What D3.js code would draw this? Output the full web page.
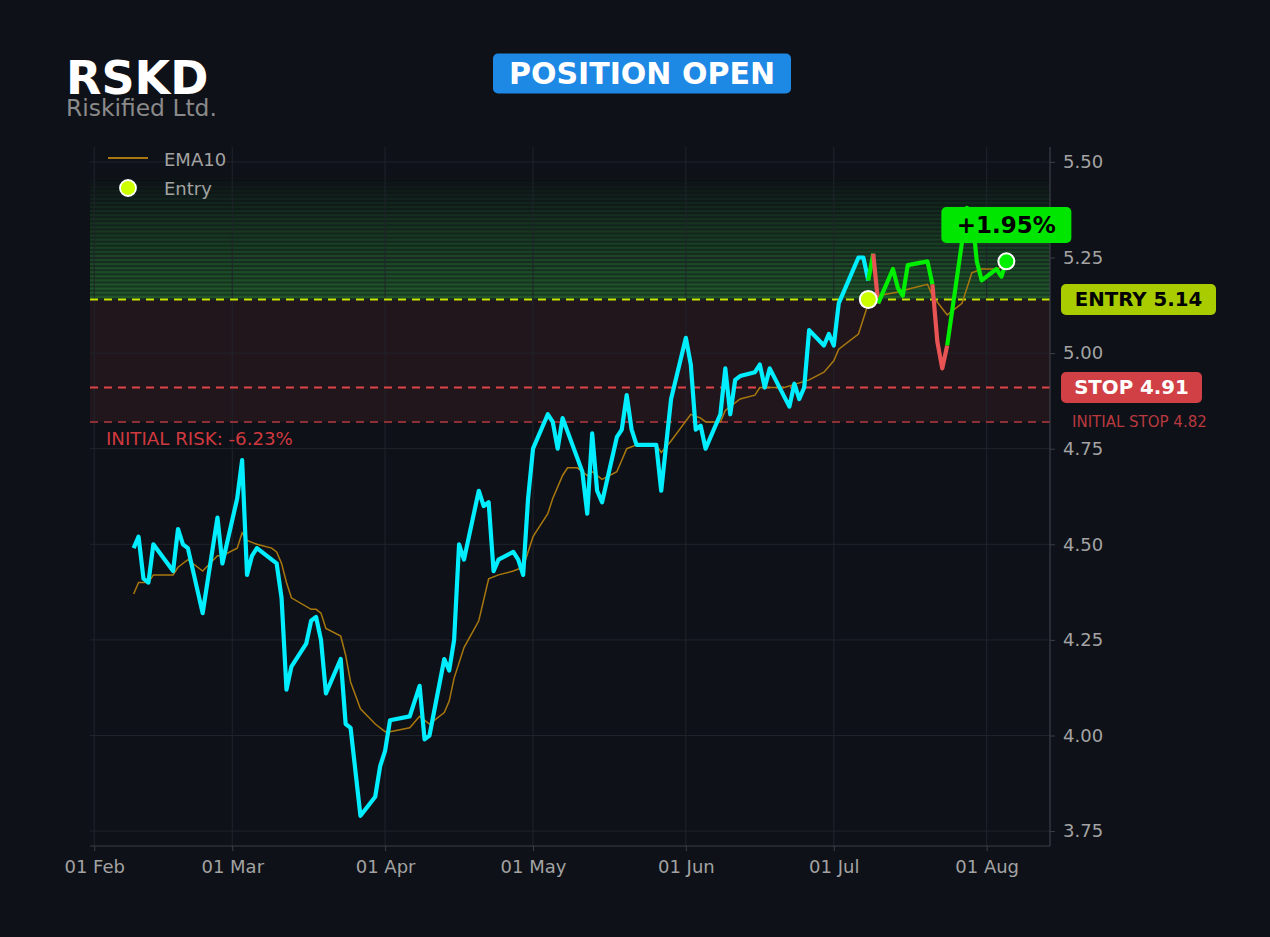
<!DOCTYPE html>
<html>
<head>
<meta charset="utf-8">
<script src="https://cdn.jsdelivr.net/npm/d3@7"></script>
<style>
  html, body { margin: 0; padding: 0; background: #0e1117; }
  svg { display: block; font-family: "DejaVu Sans", sans-serif; }
</style>
</head>
<body>
<div id="mainDiv"></div>
<script>
'use strict';

// ---- data ----
var ticker = "RSKD";
var companyName = "Riskified Ltd.";
var statusText = "POSITION OPEN";

var priceDates = [
  "2023-02-09","2023-02-10","2023-02-11","2023-02-12","2023-02-13","2023-02-17","2023-02-18","2023-02-19","2023-02-20","2023-02-23",
  "2023-02-26","2023-02-27","2023-03-02","2023-03-03","2023-03-04","2023-03-05","2023-03-06","2023-03-10","2023-03-11","2023-03-12",
  "2023-03-13","2023-03-16","2023-03-17","2023-03-18","2023-03-19","2023-03-20","2023-03-23","2023-03-24","2023-03-25","2023-03-27",
  "2023-03-30","2023-03-31","2023-04-01","2023-04-02","2023-04-06","2023-04-08","2023-04-09","2023-04-10","2023-04-13","2023-04-14",
  "2023-04-15","2023-04-16","2023-04-17","2023-04-20","2023-04-21","2023-04-22","2023-04-23","2023-04-24","2023-04-27","2023-04-28",
  "2023-04-29","2023-04-30","2023-05-01","2023-05-04","2023-05-05","2023-05-06","2023-05-07","2023-05-11","2023-05-12","2023-05-13",
  "2023-05-14","2023-05-15","2023-05-18","2023-05-19","2023-05-20","2023-05-21","2023-05-22","2023-05-26","2023-05-27","2023-05-29",
  "2023-06-01","2023-06-02","2023-06-03","2023-06-04","2023-06-05","2023-06-08","2023-06-09","2023-06-10","2023-06-11","2023-06-12",
  "2023-06-15","2023-06-16","2023-06-17","2023-06-18","2023-06-22","2023-06-23","2023-06-24","2023-06-25","2023-06-26","2023-06-29",
  "2023-06-30","2023-07-01","2023-07-02","2023-07-06","2023-07-07","2023-07-08","2023-07-09","2023-07-10","2023-07-13","2023-07-14",
  "2023-07-15","2023-07-16","2023-07-20","2023-07-21","2023-07-22","2023-07-23","2023-07-24","2023-07-28","2023-07-29","2023-07-30",
  "2023-07-31","2023-08-03","2023-08-04","2023-08-05"
];
var closes = [
  4.49, 4.52, 4.41, 4.40, 4.50, 4.43, 4.54, 4.50, 4.49, 4.32,
  4.57, 4.45, 4.62, 4.72, 4.42, 4.47, 4.49, 4.45, 4.36, 4.12,
  4.18, 4.24, 4.30, 4.31, 4.25, 4.11, 4.20, 4.03, 4.02, 3.79,
  3.84, 3.92, 3.96, 4.04, 4.05, 4.13, 3.99, 4.00, 4.20, 4.17,
  4.25, 4.50, 4.46, 4.64, 4.60, 4.61, 4.43, 4.46, 4.48, 4.46,
  4.42, 4.62, 4.75, 4.84, 4.82, 4.75, 4.83, 4.69, 4.58, 4.79,
  4.64, 4.61, 4.78, 4.80, 4.89, 4.80, 4.76, 4.76, 4.64, 4.88,
  5.04, 4.97, 4.80, 4.81, 4.75, 4.84, 4.96, 4.84, 4.93, 4.94,
  4.95, 4.97, 4.91, 4.96, 4.86, 4.92, 4.88, 4.91, 5.06, 5.02,
  5.05, 5.02, 5.13, 5.25, 5.25, 5.19, 5.26, 5.13, 5.22, 5.17,
  5.15, 5.23, 5.24, 5.18, 5.03, 4.96, 5.02, 5.38, 5.37, 5.24,
  5.19, 5.22, 5.20, 5.24
];

var emaDates = [
  "2023-02-09","2023-02-10","2023-02-12","2023-02-13","2023-02-17","2023-02-18","2023-02-20","2023-02-23","2023-02-26","2023-02-27",
  "2023-03-02","2023-03-03","2023-03-04","2023-03-06","2023-03-09","2023-03-10","2023-03-11","2023-03-12","2023-03-13","2023-03-17",
  "2023-03-18","2023-03-19","2023-03-20","2023-03-23","2023-03-24","2023-03-25","2023-03-27","2023-03-30","2023-04-01","2023-04-02",
  "2023-04-06","2023-04-08","2023-04-10","2023-04-13","2023-04-14","2023-04-15","2023-04-17","2023-04-20","2023-04-22","2023-04-24",
  "2023-04-27","2023-04-29","2023-05-01","2023-05-04","2023-05-05","2023-05-07","2023-05-08","2023-05-10","2023-05-12","2023-05-13",
  "2023-05-15","2023-05-18","2023-05-19","2023-05-20","2023-05-22","2023-05-26","2023-05-27","2023-05-29","2023-06-02","2023-06-04",
  "2023-06-05","2023-06-08","2023-06-09","2023-06-12","2023-06-15","2023-06-16","2023-06-21","2023-06-26","2023-06-29","2023-07-01",
  "2023-07-02","2023-07-06","2023-07-07","2023-07-08","2023-07-10","2023-07-14","2023-07-17","2023-07-20","2023-07-21","2023-07-24",
  "2023-07-27","2023-07-29","2023-07-31","2023-08-03","2023-08-05"
];
var emaValues = [
  4.37, 4.40, 4.40, 4.42, 4.42, 4.44, 4.46, 4.43, 4.47, 4.47,
  4.49, 4.53, 4.51, 4.50, 4.49, 4.48, 4.45, 4.40, 4.36, 4.33,
  4.33, 4.32, 4.28, 4.26, 4.21, 4.14, 4.07, 4.03, 4.01, 4.01,
  4.02, 4.05, 4.03, 4.06, 4.09, 4.15, 4.23, 4.30, 4.41, 4.42,
  4.43, 4.44, 4.52, 4.58, 4.62, 4.68, 4.70, 4.70, 4.68, 4.69,
  4.67, 4.69, 4.72, 4.75, 4.76, 4.76, 4.74, 4.77, 4.84, 4.83,
  4.82, 4.82, 4.85, 4.88, 4.89, 4.91, 4.91, 4.93, 4.95, 4.98,
  5.01, 5.05, 5.09, 5.13, 5.15, 5.16, 5.17, 5.18, 5.15, 5.10,
  5.13, 5.21, 5.22, 5.22, 5.23
];

var entryDate = "2023-07-08";
var entryPrice = 5.14;
var stopPrice = 4.91;
var initialStopPrice = 4.82;
var lastDate = "2023-08-05";
var lastPrice = 5.24;
var pnlText = "+1.95%";
var riskText = "INITIAL RISK: -6.23%";

var yTicks = [3.75, 4.00, 4.25, 4.50, 4.75, 5.00, 5.25, 5.50];
var xTickDates = ["2023-02-01","2023-03-01","2023-04-01","2023-05-01","2023-06-01","2023-07-01","2023-08-01"];

// ---- chart ----
var myApp = {};

myApp.width = 1270;
myApp.height = 937;
myApp.plot = { left: 90, right: 1050, top: 147, bottom: 846 };

myApp.colors = {
    bg: '#0e1117',
    grid: '#20242c',
    spine: '#3b3f47',
    tickText: '#a3a3a3',
    price: '#00eeff',
    win: '#00ee00',
    loss: '#e85454',
    ema: '#a8780f',
    entry: '#c8e600',
    stop: '#e04448',
    initStop: '#8e2f36',
    riskZone: '#21161c'
};

myApp.parse = d3.timeParse('%Y-%m-%d');

myApp.buildScales = function () {
    var p = myApp.plot;
    var dates = priceDates.map(myApp.parse);
    var ext = d3.extent(dates);
    var pad = (ext[1] - ext[0]) * 0.05;
    myApp.xScale = d3.scaleTime()
        .domain([new Date(+ext[0] - pad), new Date(+ext[1] + pad)])
        .range([p.left, p.right]);
    myApp.yScale = d3.scaleLinear().domain([3.711, 5.539]).range([p.bottom, p.top]);
};

myApp.drawGrid = function (svg) {
    var p = myApp.plot, x = myApp.xScale, y = myApp.yScale;
    var g = svg.append('g').attr('class', 'grid');
    g.selectAll('line.h').data(yTicks).enter().append('line')
        .attr('x1', p.left).attr('x2', p.right)
        .attr('y1', function (d) { return y(d); }).attr('y2', function (d) { return y(d); })
        .attr('stroke', myApp.colors.grid).attr('stroke-width', 1);
    g.selectAll('line.v').data(xTickDates).enter().append('line')
        .attr('y1', p.top).attr('y2', p.bottom)
        .attr('x1', function (d) { return x(myApp.parse(d)); }).attr('x2', function (d) { return x(myApp.parse(d)); })
        .attr('stroke', myApp.colors.grid).attr('stroke-width', 1);
};

myApp.drawZones = function (g) {
    var p = myApp.plot, y = myApp.yScale;
    // risk zone between initial stop and entry
    g.append('rect')
        .attr('x', p.left).attr('width', p.right - p.left)
        .attr('y', y(entryPrice)).attr('height', y(initialStopPrice) - y(entryPrice))
        .attr('fill', myApp.colors.riskZone);

    // fading green stripes above entry
    var n = 30, top = 5.46;
    var step = (top - entryPrice) / n;
    var bands = d3.range(n);
    var alpha = function (i) { return Math.pow(1 - i / n, 0.9); };
    g.selectAll('rect.base').data(bands).enter().append('rect')
        .attr('x', p.left).attr('width', p.right - p.left)
        .attr('y', function (i) { return y(entryPrice + (i + 1) * step); })
        .attr('height', function (i) { return y(entryPrice + i * step) - y(entryPrice + (i + 1) * step); })
        .attr('fill', '#34a040')
        .attr('fill-opacity', function (i) { return 0.27 * alpha(i); });
    g.selectAll('rect.band').data(bands).enter().append('rect')
        .attr('x', p.left).attr('width', p.right - p.left)
        .attr('y', function (i) { return y(entryPrice + (i + 1) * step); })
        .attr('height', 2.4)
        .attr('fill', '#34a040')
        .attr('fill-opacity', function (i) { return 0.3 * alpha(i); });
};

myApp.hline = function (g, value, color, width, dash) {
    var p = myApp.plot, y = myApp.yScale;
    g.append('line')
        .attr('x1', p.left).attr('x2', p.right)
        .attr('y1', y(value)).attr('y2', y(value))
        .attr('stroke', color).attr('stroke-width', width)
        .attr('stroke-dasharray', dash);
};

myApp.drawLines = function (g) {
    var x = myApp.xScale, y = myApp.yScale;
    var line = d3.line()
        .x(function (d) { return x(d.date); })
        .y(function (d) { return y(d.value); });

    var ema = emaDates.map(function (d, i) { return { date: myApp.parse(d), value: emaValues[i] }; });
    g.append('path').datum(ema)
        .attr('d', line)
        .attr('fill', 'none')
        .attr('stroke', myApp.colors.ema)
        .attr('stroke-width', 1.5);

    var pts = priceDates.map(function (d, i) { return { date: myApp.parse(d), value: closes[i] }; });
    var entryT = +myApp.parse(entryDate);

    // split the close series into runs of the same colour
    var runs = [];
    for (var i = 1; i < pts.length; i++) {
        var c;
        if (+pts[i].date <= entryT) c = myApp.colors.price;
        else c = pts[i].value < entryPrice ? myApp.colors.loss : myApp.colors.win;
        var last = runs[runs.length - 1];
        if (last && last.color === c) last.pts.push(pts[i]);
        else runs.push({ color: c, pts: [pts[i - 1], pts[i]] });
    }

    g.selectAll('path.price').data(runs).enter().append('path')
        .attr('class', 'price')
        .attr('d', function (r) { return line(r.pts); })
        .attr('fill', 'none')
        .attr('stroke', function (r) { return r.color; })
        .attr('stroke-width', 4.2)
        .attr('stroke-linejoin', 'round');
};

myApp.drawAxes = function (svg) {
    var p = myApp.plot;
    var yAxis = d3.axisRight(myApp.yScale).tickValues(yTicks).tickFormat(d3.format('.2f')).tickSize(5).tickPadding(8);
    var xAxis = d3.axisBottom(myApp.xScale).tickValues(xTickDates.map(myApp.parse))
        .tickFormat(d3.timeFormat('%d %b')).tickSize(5).tickPadding(9);

    var ya = svg.append('g').attr('transform', 'translate(' + p.right + ',0)').call(yAxis);
    var xa = svg.append('g').attr('transform', 'translate(0,' + p.bottom + ')').call(xAxis);

    [ya, xa].forEach(function (a) {
        a.select('.domain').remove();
        a.selectAll('line').attr('stroke', myApp.colors.spine);
        a.selectAll('text').attr('fill', myApp.colors.tickText)
            .style('font-size', '18px').style('font-family', '"DejaVu Sans", sans-serif');
    });

    svg.append('line').attr('x1', p.right).attr('x2', p.right).attr('y1', p.top).attr('y2', p.bottom)
        .attr('stroke', myApp.colors.spine).attr('stroke-width', 1.2);
    svg.append('line').attr('x1', p.left).attr('x2', p.right).attr('y1', p.bottom).attr('y2', p.bottom)
        .attr('stroke', myApp.colors.spine).attr('stroke-width', 1.2);
};

myApp.labelBox = function (svg, cx, cy, w, h, fill, text, textColor, size, anchorLeft) {
    var x0 = anchorLeft ? cx : cx - w / 2;
    svg.append('rect').attr('x', x0).attr('y', cy - h / 2).attr('width', w).attr('height', h)
        .attr('rx', 5).attr('fill', fill);
    svg.append('text').attr('x', x0 + w / 2).attr('y', cy)
        .attr('text-anchor', 'middle').attr('dominant-baseline', 'central')
        .attr('fill', textColor).attr('font-weight', 'bold').attr('font-size', size)
        .text(text);
};

myApp.drawAnnotations = function (svg, g) {
    var x = myApp.xScale, y = myApp.yScale;

    // entry and last-price markers
    g.append('circle').attr('cx', x(myApp.parse(entryDate))).attr('cy', y(entryPrice)).attr('r', 8.5)
        .attr('fill', '#ccff00').attr('stroke', '#ffffff').attr('stroke-width', 2);
    g.append('circle').attr('cx', x(myApp.parse(lastDate))).attr('cy', y(lastPrice)).attr('r', 8)
        .attr('fill', '#00ee00').attr('stroke', '#ffffff').attr('stroke-width', 2);

    // pnl badge
    myApp.labelBox(svg, x(myApp.parse(lastDate)), 225, 130, 36, '#00e600', pnlText, '#000000', 23);

    svg.append('text').attr('x', 106).attr('y', y(initialStopPrice) + 17)
        .attr('dominant-baseline', 'central')
        .attr('fill', '#d0393f').attr('font-size', 18.2).text(riskText);

    // right side price tags
    myApp.labelBox(svg, 1061, y(entryPrice), 155, 31, '#a8cc00', 'ENTRY ' + entryPrice.toFixed(2), '#000000', 19.8, true);
    myApp.labelBox(svg, 1061, y(stopPrice), 141, 31, '#d04045', 'STOP ' + stopPrice.toFixed(2), '#ffffff', 19.8, true);
    svg.append('text').attr('x', 1072).attr('y', y(initialStopPrice))
        .attr('dominant-baseline', 'central')
        .attr('fill', '#b8393f').attr('font-size', 15).text('INITIAL STOP ' + initialStopPrice.toFixed(2));

    // legend
    var lg = svg.append('g');
    lg.append('line').attr('x1', 108).attr('x2', 148).attr('y1', 158).attr('y2', 158)
        .attr('stroke', myApp.colors.ema).attr('stroke-width', 1.8);
    lg.append('text').attr('x', 164).attr('y', 159).attr('dominant-baseline', 'central')
        .attr('fill', '#a3a3a3').attr('font-size', 18).text('EMA10');
    lg.append('circle').attr('cx', 128).attr('cy', 188).attr('r', 8)
        .attr('fill', '#ccff00').attr('stroke', '#ffffff').attr('stroke-width', 1.8);
    lg.append('text').attr('x', 164).attr('y', 188).attr('dominant-baseline', 'central')
        .attr('fill', '#a3a3a3').attr('font-size', 18).text('Entry');
};

myApp.drawHeader = function (svg) {
    svg.append('text').attr('x', 66).attr('y', 93.5)
        .attr('fill', '#ffffff').attr('font-weight', 'bold').attr('font-size', 46).text(ticker);
    svg.append('text').attr('x', 66).attr('y', 116)
        .attr('fill', '#8a8a8a').attr('font-size', 23.4).text(companyName);
    myApp.labelBox(svg, 642, 73.5, 298, 40, '#1e88e5', statusText, '#ffffff', 30);
};

myApp.run = function () {
    var p = myApp.plot;
    var svg = d3.select('#mainDiv').append('svg')
        .attr('width', myApp.width).attr('height', myApp.height);
    svg.append('rect').attr('width', myApp.width).attr('height', myApp.height).attr('fill', myApp.colors.bg);

    myApp.buildScales();

    svg.append('clipPath').attr('id', 'plotClip').append('rect')
        .attr('x', p.left).attr('y', p.top).attr('width', p.right - p.left).attr('height', p.bottom - p.top);

    var g = svg.append('g').attr('clip-path', 'url(#plotClip)');
    myApp.drawZones(g);
    myApp.drawGrid(g);
    myApp.hline(g, initialStopPrice, myApp.colors.initStop, 2, '8,6');
    myApp.hline(g, stopPrice, myApp.colors.stop, 2, '8,6');
    myApp.hline(g, entryPrice, myApp.colors.entry, 2, '8,6');
    myApp.drawLines(g);
    myApp.drawAxes(svg);
    myApp.drawAnnotations(svg, g);
    myApp.drawHeader(svg);
};

window.onload = myApp.run;
</script>
</body>
</html>
